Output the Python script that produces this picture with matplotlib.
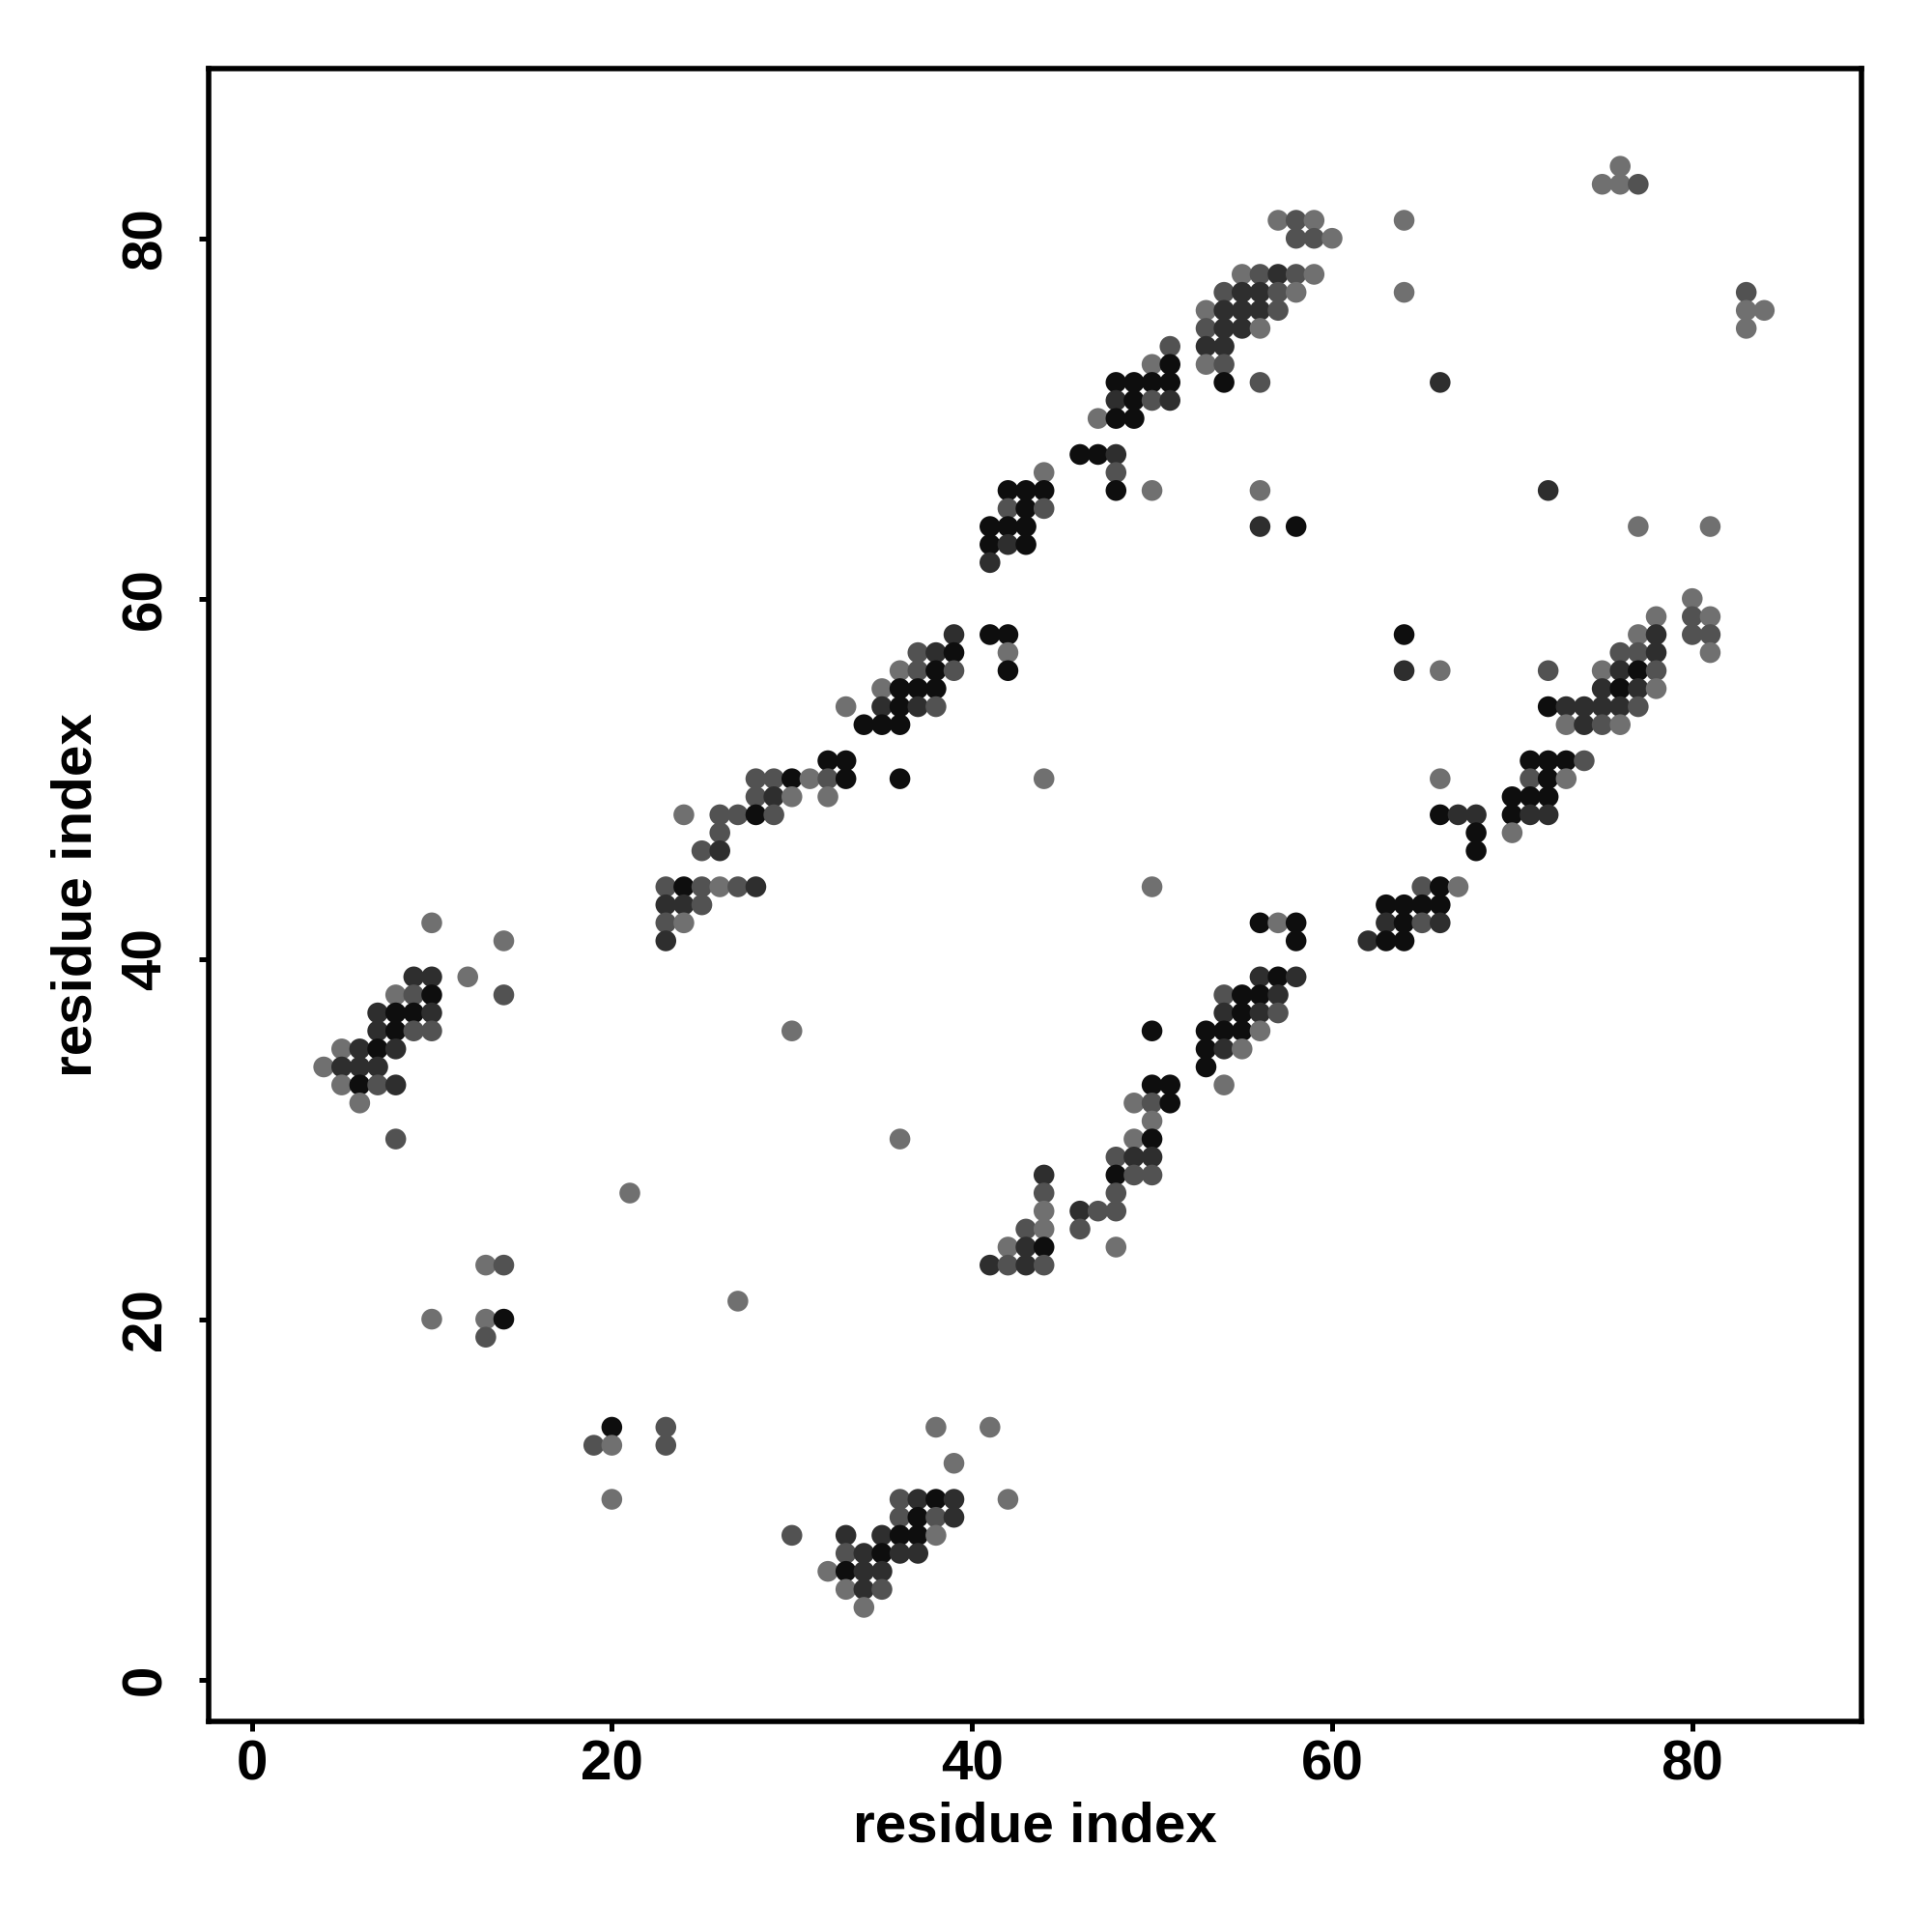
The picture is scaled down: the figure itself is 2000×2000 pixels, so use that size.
import numpy as np
import matplotlib.pyplot as plt
from matplotlib.colors import ListedColormap

# contact map: for each residue index on y, the partner residues on x
# and a shade level (1 = light grey ... 4 = black)
row_y = [84, 83, 81, 80, 78, 77, 76, 75, 74, 73, 72, 71, 70, 68, 67, 66, 65, 64,
         63, 62, 60, 59, 58, 57, 56, 55, 54, 53, 51, 50, 49, 48, 47, 46, 44, 43,
         42, 41, 39, 38, 37, 36, 35, 34, 33, 32, 31, 30, 29, 28, 27, 26, 25, 24,
         23, 21, 20, 19, 14, 13, 12, 10, 9, 8, 7, 6, 5, 4]

row_x = [
    [76],
    [75, 76, 77],
    [57, 58, 59, 64],
    [58, 59, 60],
    [55, 56, 57, 58, 59],
    [54, 55, 56, 57, 58, 64, 83],
    [53, 54, 55, 56, 57, 83, 84],
    [53, 54, 55, 56, 83],
    [51, 53, 54],
    [50, 51, 53, 54],
    [48, 49, 50, 51, 54, 56, 66],
    [48, 49, 50, 51],
    [47, 48, 49],
    [46, 47, 48],
    [44, 48],
    [42, 43, 44, 48, 50, 56, 72],
    [42, 43, 44],
    [41, 42, 43, 56, 58, 77, 81],
    [41, 42, 43],
    [41],
    [80],
    [78, 80, 81],
    [39, 41, 42, 64, 77, 78, 80, 81],
    [37, 38, 39, 42, 76, 77, 78, 81],
    [36, 37, 38, 39, 42, 64, 66, 72, 75, 76, 77, 78],
    [35, 36, 37, 38, 75, 76, 77, 78],
    [33, 35, 36, 37, 38, 72, 73, 74, 75, 76, 77],
    [34, 35, 36, 73, 74, 75, 76],
    [32, 33, 71, 72, 73, 74],
    [28, 29, 30, 31, 32, 33, 36, 44, 66, 71, 72, 73],
    [28, 29, 30, 32, 70, 71, 72],
    [24, 26, 27, 28, 29, 66, 67, 68, 70, 71, 72],
    [26, 68, 70],
    [25, 26, 68],
    [23, 24, 25, 26, 27, 28, 50, 65, 66, 67],
    [23, 24, 25, 63, 64, 65, 66],
    [10, 23, 24, 56, 57, 58, 63, 64, 65, 66],
    [14, 23, 58, 62, 63, 64],
    [9, 10, 12, 56, 57, 58],
    [8, 9, 10, 14, 54, 55, 56, 57],
    [7, 8, 9, 10, 54, 55, 56, 57],
    [7, 8, 9, 10, 30, 50, 53, 54, 55, 56],
    [5, 6, 7, 8, 53, 54, 55],
    [4, 5, 6, 7, 53],
    [5, 6, 7, 8, 50, 51, 54],
    [6, 49, 50, 51],
    [50],
    [8, 36, 49, 50],
    [48, 49, 50],
    [44, 48, 49, 50],
    [21, 44, 48],
    [44, 46, 47, 48],
    [43, 44, 46],
    [42, 43, 44, 48],
    [13, 14, 41, 42, 43, 44],
    [27],
    [10, 13, 14],
    [13],
    [20, 23, 38, 41],
    [19, 20, 23],
    [39],
    [20, 36, 37, 38, 39, 42],
    [36, 37, 38, 39],
    [30, 33, 35, 36, 37, 38],
    [33, 34, 35, 36, 37],
    [32, 33, 34, 35],
    [33, 34, 35],
    [34],
]

row_shade = [
    [1],
    [1, 1, 2],
    [1, 2, 1, 1],
    [2, 2, 1],
    [1, 2, 3, 2, 1],
    [2, 3, 3, 2, 1, 1, 2],
    [1, 3, 3, 3, 2, 1, 1],
    [2, 3, 3, 1, 1],
    [2, 3, 3],
    [1, 4, 1, 2],
    [4, 4, 4, 4, 4, 2, 3],
    [3, 4, 2, 3],
    [1, 4, 4],
    [4, 4, 3],
    [1, 2],
    [4, 4, 4, 4, 1, 1, 3],
    [2, 4, 2],
    [4, 4, 4, 3, 4, 1, 1],
    [4, 3, 4],
    [3],
    [1],
    [1, 2, 1],
    [3, 4, 4, 4, 1, 3, 2, 2],
    [2, 3, 4, 1, 2, 2, 3, 1],
    [1, 2, 4, 2, 4, 3, 1, 2, 1, 3, 4, 2],
    [1, 4, 4, 4, 3, 4, 3, 1],
    [1, 3, 4, 3, 2, 4, 3, 3, 3, 3, 2],
    [4, 4, 4, 1, 3, 2, 1],
    [4, 4, 4, 4, 4, 2],
    [2, 2, 4, 1, 2, 4, 4, 1, 1, 2, 4, 1],
    [2, 3, 1, 1, 4, 4, 4],
    [1, 2, 2, 4, 2, 4, 3, 3, 4, 3, 3],
    [2, 4, 1],
    [2, 3, 4],
    [2, 4, 2, 1, 2, 3, 1, 2, 4, 1],
    [3, 3, 2, 4, 4, 4, 4],
    [1, 2, 1, 4, 1, 4, 3, 4, 2, 3],
    [1, 3, 4, 3, 4, 4],
    [3, 3, 1, 3, 4, 3],
    [1, 2, 4, 2, 2, 4, 4, 3],
    [3, 4, 4, 3, 3, 4, 3, 2],
    [3, 4, 2, 2, 1, 4, 4, 4, 4, 1],
    [1, 3, 4, 3, 4, 3, 1],
    [1, 3, 3, 3, 4],
    [1, 4, 2, 3, 4, 4, 1],
    [1, 1, 2, 4],
    [1],
    [2, 1, 1, 4],
    [2, 3, 3],
    [3, 4, 2, 2],
    [1, 2, 2],
    [1, 3, 2, 2],
    [2, 1, 2],
    [1, 3, 4, 1],
    [1, 2, 3, 2, 3, 2],
    [1],
    [1, 1, 4],
    [2],
    [4, 2, 1, 1],
    [2, 1, 2],
    [1],
    [1, 2, 3, 4, 3, 1],
    [2, 4, 2, 3],
    [2, 3, 3, 4, 4, 1],
    [2, 3, 4, 3, 3],
    [1, 4, 3, 3],
    [1, 3, 2],
    [1],
]

shade_greys = ['#707070', '#525252', '#2e2e2e', '#0e0e0e']
x_ticks = [0, 20, 40, 60, 80]
y_ticks = [0, 20, 40, 60, 80]

xs = [x for r in row_x for x in r]
ys = [y for y, r in zip(row_y, row_x) for _ in r]
ss = [s for r in row_shade for s in r]

plt.rcParams['font.family'] = ['Liberation Sans', 'DejaVu Sans']
plt.rcParams['font.weight'] = 'bold'

fig = plt.figure(figsize=(10, 10), dpi=200)
ax = fig.add_axes([0.108, 0.109, 0.8555, 0.8553])

ax.scatter(xs, ys, c=ss, cmap=ListedColormap(shade_greys), vmin=0.5, vmax=4.5,
           s=60, linewidths=0)

ax.set_xlim(-2.39, 89.4)
ax.set_ylim(-2.33, 89.4)
ax.set_xticks(x_ticks)
ax.set_yticks(y_ticks)
for sp in ax.spines.values():
    sp.set_linewidth(2.0)
ax.tick_params(length=3.6, width=1.8, labelsize=21, direction='out')
ax.tick_params(axis='x', pad=3)
ax.tick_params(axis='y', pad=10, labelrotation=90)
plt.setp(ax.get_yticklabels(), va='center')

ax.set_xlabel('residue index', fontsize=21, fontweight='bold', va='center')
ax.set_ylabel('residue index', fontsize=21, fontweight='bold', va='center')
ax.xaxis.set_label_coords(0.5, -0.0643)
ax.yaxis.set_label_coords(-0.0798, 0.5)

fig.savefig('out.png', dpi=200)
